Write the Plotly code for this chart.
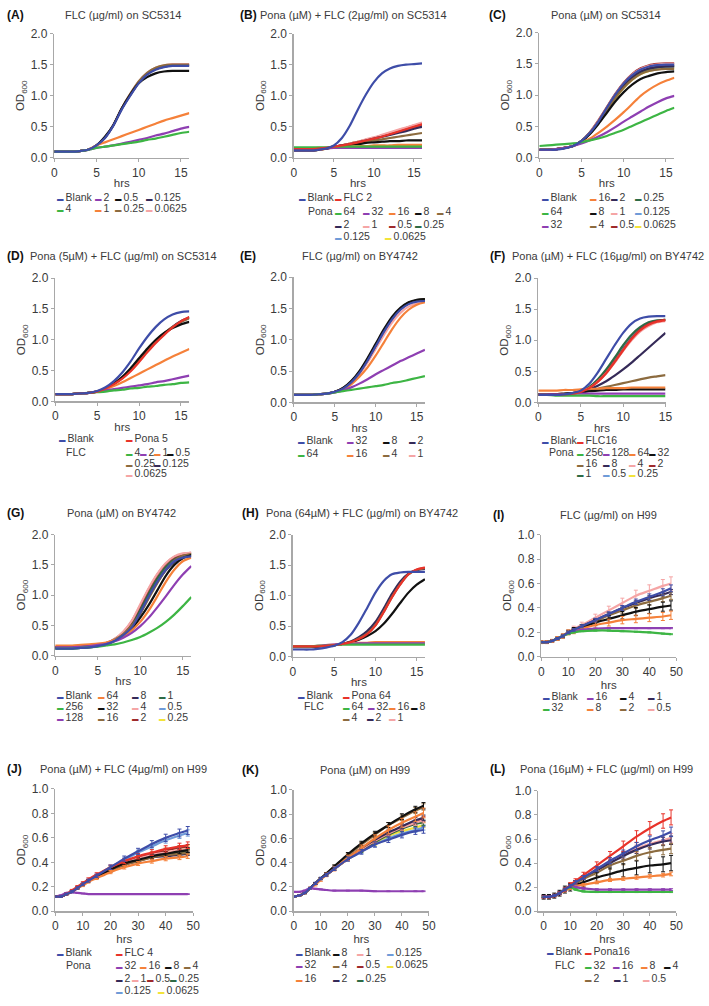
import plotly.graph_objects as go

W, H = 709, 1006

# ---------------- time points (hours) ----------------
T16 = [0, 1, 2, 3, 4, 5, 6, 7, 8, 9, 10, 11, 12, 13, 14, 15, 16]
T15 = [0, 1, 2, 3, 4, 5, 6, 7, 8, 9, 10, 11, 12, 13, 14, 15]
T48 = [0, 2, 4, 6, 8, 10, 12, 15, 20, 25, 30, 35, 40, 45, 48]

# ---------------- colours ----------------
BLUE = "#3E4DA8"; GREEN = "#3DB544"; PURPLE = "#8E3FB2"; ORANGE = "#F5813A"
BLACK = "#111111"; BROWN = "#8C6B3F"; NAVY = "#352A58"; PINK = "#F5A5A5"
RED = "#E8332A"; DRED = "#9E2A2B"; DGREEN = "#2E6B45"; LBLUE = "#6F9BD8"; YELLOW = "#F2E33A"

# ---------------- (A) FLC (ug/ml) on SC5314 ----------------
A_NAMES = ["Blank", "4", "2", "1", "0.5", "0.25", "0.125", "0.0625"]
A_COLORS = [BLUE, GREEN, PURPLE, ORANGE, BLACK, BROWN, NAVY, PINK]
A_VALUES = [
    [0.10, 0.10, 0.10, 0.11, 0.13, 0.20, 0.32, 0.52, 0.78, 1.00, 1.20, 1.34, 1.42, 1.46, 1.48, 1.48, 1.48],
    [0.10, 0.10, 0.10, 0.11, 0.13, 0.16, 0.18, 0.20, 0.22, 0.24, 0.26, 0.29, 0.31, 0.34, 0.37, 0.40, 0.42],
    [0.10, 0.10, 0.10, 0.11, 0.13, 0.16, 0.18, 0.20, 0.23, 0.26, 0.29, 0.32, 0.36, 0.39, 0.43, 0.47, 0.50],
    [0.10, 0.10, 0.10, 0.11, 0.13, 0.20, 0.25, 0.30, 0.35, 0.40, 0.45, 0.50, 0.55, 0.60, 0.64, 0.68, 0.72],
    [0.10, 0.10, 0.10, 0.11, 0.13, 0.20, 0.34, 0.53, 0.80, 1.02, 1.20, 1.30, 1.36, 1.39, 1.40, 1.40, 1.40],
    [0.10, 0.10, 0.10, 0.11, 0.13, 0.20, 0.33, 0.53, 0.80, 1.03, 1.23, 1.37, 1.45, 1.49, 1.50, 1.50, 1.50],
    [0.10, 0.10, 0.10, 0.11, 0.13, 0.20, 0.32, 0.52, 0.79, 1.01, 1.21, 1.35, 1.43, 1.47, 1.49, 1.49, 1.49],
    [0.10, 0.10, 0.10, 0.11, 0.13, 0.20, 0.33, 0.53, 0.80, 1.03, 1.23, 1.37, 1.45, 1.49, 1.51, 1.51, 1.51],
]

# ---------------- (B) Pona (uM) + FLC (2ug/ml) on SC5314 ----------------
B_NAMES = ["Blank", "FLC 2", "64", "32", "16", "8", "4", "2", "1", "0.5", "0.25", "0.125", "0.0625"]
B_COLORS = [BLUE, RED, GREEN, PURPLE, ORANGE, BLACK, BROWN, NAVY, PINK, DRED, DGREEN, LBLUE, YELLOW]
B_VALUES = [
    [0.12, 0.12, 0.12, 0.13, 0.15, 0.20, 0.32, 0.52, 0.78, 1.02, 1.22, 1.36, 1.44, 1.48, 1.50, 1.51, 1.52],
    [0.14, 0.14, 0.14, 0.15, 0.16, 0.18, 0.20, 0.22, 0.25, 0.28, 0.31, 0.34, 0.38, 0.42, 0.46, 0.50, 0.54],
    [0.17, 0.17, 0.17, 0.17, 0.17, 0.18, 0.18, 0.18, 0.18, 0.18, 0.18, 0.18, 0.18, 0.18, 0.18, 0.18, 0.18],
    [0.14, 0.14, 0.14, 0.15, 0.15, 0.16, 0.16, 0.16, 0.16, 0.16, 0.16, 0.16, 0.16, 0.16, 0.16, 0.16, 0.16],
    [0.15, 0.15, 0.15, 0.16, 0.16, 0.17, 0.18, 0.18, 0.19, 0.19, 0.20, 0.20, 0.20, 0.21, 0.21, 0.21, 0.21],
    [0.13, 0.13, 0.13, 0.14, 0.15, 0.17, 0.19, 0.21, 0.22, 0.24, 0.25, 0.26, 0.27, 0.27, 0.28, 0.28, 0.28],
    [0.13, 0.13, 0.13, 0.14, 0.15, 0.17, 0.19, 0.21, 0.24, 0.26, 0.28, 0.30, 0.32, 0.34, 0.36, 0.38, 0.40],
    [0.12, 0.12, 0.12, 0.13, 0.15, 0.17, 0.20, 0.22, 0.25, 0.28, 0.31, 0.34, 0.37, 0.40, 0.43, 0.47, 0.50],
    [0.12, 0.12, 0.12, 0.13, 0.15, 0.18, 0.20, 0.23, 0.26, 0.30, 0.33, 0.37, 0.41, 0.45, 0.49, 0.53, 0.57],
    [0.12, 0.12, 0.12, 0.13, 0.15, 0.18, 0.20, 0.23, 0.26, 0.29, 0.32, 0.36, 0.40, 0.44, 0.48, 0.52, 0.55],
    [0.12, 0.12, 0.12, 0.13, 0.15, 0.18, 0.20, 0.22, 0.25, 0.28, 0.31, 0.35, 0.39, 0.43, 0.46, 0.50, 0.53],
    [0.12, 0.12, 0.12, 0.13, 0.15, 0.17, 0.20, 0.22, 0.25, 0.28, 0.31, 0.34, 0.38, 0.42, 0.45, 0.49, 0.52],
    [0.12, 0.12, 0.12, 0.13, 0.15, 0.18, 0.20, 0.23, 0.26, 0.29, 0.32, 0.35, 0.39, 0.43, 0.47, 0.51, 0.54],
]

# ---------------- (C) Pona (uM) on SC5314 ----------------
C_NAMES = ["Blank", "64", "32", "16", "8", "4", "2", "1", "0.5", "0.25", "0.125", "0.0625"]
C_COLORS = [BLUE, GREEN, PURPLE, ORANGE, BLACK, BROWN, NAVY, PINK, DRED, DGREEN, LBLUE, YELLOW]
C_VALUES = [
    [0.13, 0.13, 0.13, 0.15, 0.19, 0.27, 0.40, 0.58, 0.80, 1.01, 1.19, 1.32, 1.41, 1.46, 1.48, 1.49, 1.49],
    [0.19, 0.20, 0.21, 0.22, 0.23, 0.25, 0.28, 0.31, 0.35, 0.40, 0.45, 0.51, 0.57, 0.63, 0.69, 0.75, 0.80],
    [0.13, 0.13, 0.14, 0.16, 0.19, 0.23, 0.28, 0.34, 0.41, 0.49, 0.58, 0.66, 0.74, 0.82, 0.89, 0.95, 0.99],
    [0.13, 0.13, 0.14, 0.16, 0.19, 0.24, 0.31, 0.40, 0.50, 0.61, 0.73, 0.86, 0.99, 1.09, 1.17, 1.23, 1.28],
    [0.13, 0.13, 0.14, 0.16, 0.19, 0.26, 0.38, 0.54, 0.72, 0.90, 1.05, 1.17, 1.26, 1.31, 1.35, 1.37, 1.38],
    [0.13, 0.13, 0.14, 0.16, 0.19, 0.27, 0.40, 0.57, 0.77, 0.96, 1.12, 1.25, 1.34, 1.39, 1.41, 1.42, 1.42],
    [0.13, 0.13, 0.14, 0.16, 0.19, 0.27, 0.40, 0.58, 0.79, 0.99, 1.16, 1.29, 1.38, 1.43, 1.45, 1.46, 1.46],
    [0.13, 0.13, 0.14, 0.16, 0.19, 0.27, 0.41, 0.59, 0.80, 1.01, 1.19, 1.33, 1.42, 1.47, 1.49, 1.50, 1.50],
    [0.13, 0.13, 0.14, 0.16, 0.19, 0.27, 0.41, 0.60, 0.81, 1.02, 1.20, 1.34, 1.43, 1.48, 1.50, 1.51, 1.51],
    [0.13, 0.13, 0.14, 0.16, 0.19, 0.27, 0.40, 0.58, 0.78, 0.98, 1.15, 1.28, 1.37, 1.42, 1.45, 1.46, 1.47],
    [0.13, 0.13, 0.14, 0.16, 0.19, 0.27, 0.40, 0.57, 0.77, 0.97, 1.14, 1.27, 1.36, 1.41, 1.44, 1.45, 1.46],
    [0.13, 0.13, 0.14, 0.16, 0.19, 0.27, 0.39, 0.56, 0.76, 0.95, 1.12, 1.25, 1.34, 1.39, 1.42, 1.43, 1.44],
]

# ---------------- (D) Pona (5uM) + FLC (ug/ml) on SC5314 ----------------
D_NAMES = ["Blank", "Pona 5", "4", "2", "1", "0.5", "0.25", "0.125", "0.0625"]
D_COLORS = [BLUE, RED, GREEN, PURPLE, ORANGE, BLACK, BROWN, NAVY, PINK]
D_VALUES = [
    [0.12, 0.12, 0.12, 0.13, 0.14, 0.17, 0.23, 0.33, 0.47, 0.65, 0.86, 1.05, 1.21, 1.33, 1.41, 1.45, 1.46],
    [0.12, 0.12, 0.12, 0.13, 0.14, 0.16, 0.21, 0.28, 0.37, 0.49, 0.64, 0.80, 0.95, 1.08, 1.20, 1.30, 1.37],
    [0.12, 0.12, 0.12, 0.13, 0.14, 0.15, 0.16, 0.18, 0.19, 0.21, 0.22, 0.24, 0.25, 0.27, 0.28, 0.30, 0.31],
    [0.12, 0.12, 0.12, 0.13, 0.14, 0.16, 0.18, 0.20, 0.22, 0.24, 0.26, 0.28, 0.31, 0.33, 0.36, 0.39, 0.42],
    [0.12, 0.12, 0.12, 0.13, 0.14, 0.16, 0.20, 0.25, 0.31, 0.38, 0.45, 0.52, 0.59, 0.66, 0.73, 0.79, 0.85],
    [0.12, 0.12, 0.12, 0.13, 0.14, 0.16, 0.21, 0.29, 0.40, 0.54, 0.70, 0.86, 1.00, 1.11, 1.19, 1.25, 1.29],
    [0.12, 0.12, 0.12, 0.13, 0.14, 0.16, 0.21, 0.29, 0.39, 0.52, 0.67, 0.83, 0.98, 1.11, 1.21, 1.29, 1.35],
    [0.12, 0.12, 0.12, 0.13, 0.14, 0.16, 0.21, 0.28, 0.38, 0.51, 0.66, 0.82, 0.97, 1.10, 1.21, 1.30, 1.36],
    [0.12, 0.12, 0.12, 0.13, 0.14, 0.16, 0.21, 0.28, 0.38, 0.50, 0.65, 0.81, 0.96, 1.09, 1.21, 1.30, 1.37],
]

# ---------------- (E) FLC (ug/ml) on BY4742 ----------------
E_NAMES = ["Blank", "64", "32", "16", "8", "4", "2", "1"]
E_COLORS = [BLUE, GREEN, PURPLE, ORANGE, BLACK, BROWN, NAVY, PINK]
E_VALUES = [
    [0.12, 0.12, 0.12, 0.13, 0.14, 0.17, 0.22, 0.32, 0.47, 0.67, 0.90, 1.13, 1.33, 1.48, 1.57, 1.61, 1.62],
    [0.12, 0.12, 0.12, 0.13, 0.14, 0.16, 0.18, 0.20, 0.22, 0.24, 0.26, 0.28, 0.31, 0.33, 0.36, 0.39, 0.42],
    [0.12, 0.12, 0.12, 0.13, 0.14, 0.16, 0.19, 0.24, 0.30, 0.37, 0.45, 0.52, 0.59, 0.66, 0.72, 0.78, 0.84],
    [0.12, 0.12, 0.12, 0.13, 0.14, 0.16, 0.21, 0.29, 0.41, 0.56, 0.75, 0.96, 1.17, 1.35, 1.48, 1.56, 1.60],
    [0.12, 0.12, 0.12, 0.13, 0.14, 0.17, 0.23, 0.34, 0.50, 0.71, 0.94, 1.17, 1.37, 1.51, 1.60, 1.64, 1.65],
    [0.12, 0.12, 0.12, 0.13, 0.14, 0.17, 0.23, 0.33, 0.49, 0.69, 0.92, 1.15, 1.35, 1.50, 1.59, 1.63, 1.65],
    [0.12, 0.12, 0.12, 0.13, 0.14, 0.17, 0.22, 0.33, 0.48, 0.68, 0.91, 1.14, 1.34, 1.49, 1.58, 1.62, 1.64],
    [0.12, 0.12, 0.12, 0.13, 0.14, 0.17, 0.22, 0.31, 0.45, 0.64, 0.86, 1.08, 1.28, 1.43, 1.53, 1.58, 1.60],
]

# ---------------- (F) Pona (uM) + FLC (16ug/ml) on BY4742 ----------------
F_NAMES = ["Blank", "FLC16", "256", "128", "64", "32", "16", "8", "4", "2", "1", "0.5", "0.25"]
F_COLORS = [BLUE, RED, GREEN, PURPLE, ORANGE, BLACK, BROWN, NAVY, PINK, DRED, DGREEN, LBLUE, YELLOW]
F_VALUES = [
    [0.12, 0.12, 0.12, 0.13, 0.15, 0.19, 0.30, 0.48, 0.70, 0.92, 1.12, 1.27, 1.35, 1.38, 1.39, 1.39],
    [0.12, 0.12, 0.12, 0.13, 0.14, 0.17, 0.23, 0.33, 0.47, 0.65, 0.84, 1.02, 1.16, 1.25, 1.30, 1.32],
    [0.12, 0.12, 0.11, 0.11, 0.11, 0.11, 0.11, 0.10, 0.10, 0.10, 0.10, 0.10, 0.10, 0.10, 0.10, 0.10],
    [0.13, 0.13, 0.13, 0.13, 0.14, 0.14, 0.14, 0.14, 0.14, 0.14, 0.14, 0.14, 0.14, 0.14, 0.14, 0.14],
    [0.19, 0.19, 0.19, 0.20, 0.20, 0.21, 0.22, 0.22, 0.23, 0.23, 0.23, 0.24, 0.24, 0.24, 0.24, 0.24],
    [0.13, 0.13, 0.13, 0.14, 0.15, 0.16, 0.18, 0.19, 0.20, 0.20, 0.21, 0.21, 0.21, 0.21, 0.21, 0.21],
    [0.13, 0.13, 0.13, 0.14, 0.15, 0.17, 0.20, 0.22, 0.25, 0.28, 0.31, 0.34, 0.37, 0.40, 0.42, 0.44],
    [0.13, 0.13, 0.13, 0.14, 0.15, 0.17, 0.21, 0.27, 0.34, 0.43, 0.53, 0.64, 0.76, 0.88, 1.00, 1.12],
    [0.12, 0.12, 0.12, 0.13, 0.14, 0.17, 0.23, 0.33, 0.47, 0.64, 0.83, 1.00, 1.14, 1.23, 1.29, 1.31],
    [0.12, 0.12, 0.12, 0.13, 0.14, 0.17, 0.23, 0.34, 0.48, 0.66, 0.85, 1.03, 1.17, 1.26, 1.31, 1.33],
    [0.12, 0.12, 0.12, 0.13, 0.14, 0.18, 0.25, 0.37, 0.53, 0.72, 0.92, 1.09, 1.21, 1.29, 1.32, 1.33],
    [0.12, 0.12, 0.12, 0.13, 0.14, 0.17, 0.24, 0.35, 0.50, 0.69, 0.88, 1.06, 1.19, 1.27, 1.31, 1.33],
    [0.12, 0.12, 0.12, 0.13, 0.14, 0.17, 0.24, 0.35, 0.50, 0.68, 0.87, 1.05, 1.18, 1.27, 1.31, 1.33],
]

# ---------------- (G) Pona (uM) on BY4742 ----------------
G_NAMES = ["Blank", "256", "128", "64", "32", "16", "8", "4", "2", "1", "0.5", "0.25"]
G_COLORS = [BLUE, GREEN, PURPLE, ORANGE, BLACK, BROWN, NAVY, PINK, DRED, DGREEN, LBLUE, YELLOW]
G_VALUES = [
    [0.12, 0.12, 0.12, 0.13, 0.14, 0.16, 0.19, 0.25, 0.34, 0.47, 0.71, 0.98, 1.22, 1.42, 1.56, 1.62, 1.64],
    [0.12, 0.12, 0.12, 0.13, 0.14, 0.15, 0.17, 0.19, 0.22, 0.26, 0.31, 0.38, 0.46, 0.56, 0.68, 0.82, 0.97],
    [0.14, 0.14, 0.14, 0.15, 0.16, 0.18, 0.20, 0.24, 0.30, 0.38, 0.49, 0.63, 0.80, 0.98, 1.17, 1.34, 1.48],
    [0.17, 0.17, 0.17, 0.18, 0.19, 0.20, 0.22, 0.26, 0.32, 0.42, 0.56, 0.75, 0.98, 1.22, 1.42, 1.56, 1.62],
    [0.14, 0.14, 0.14, 0.15, 0.16, 0.18, 0.20, 0.25, 0.33, 0.45, 0.63, 0.84, 1.08, 1.32, 1.50, 1.61, 1.66],
    [0.15, 0.15, 0.15, 0.16, 0.17, 0.18, 0.21, 0.27, 0.36, 0.50, 0.70, 0.95, 1.20, 1.42, 1.57, 1.65, 1.68],
    [0.12, 0.12, 0.12, 0.13, 0.14, 0.16, 0.19, 0.25, 0.34, 0.47, 0.70, 0.97, 1.21, 1.41, 1.55, 1.62, 1.65],
    [0.14, 0.14, 0.14, 0.15, 0.16, 0.18, 0.21, 0.28, 0.40, 0.58, 0.85, 1.12, 1.35, 1.53, 1.64, 1.69, 1.70],
    [0.14, 0.14, 0.14, 0.15, 0.16, 0.18, 0.21, 0.28, 0.39, 0.57, 0.83, 1.10, 1.34, 1.52, 1.63, 1.68, 1.70],
    [0.13, 0.13, 0.13, 0.14, 0.15, 0.17, 0.20, 0.27, 0.37, 0.53, 0.77, 1.04, 1.28, 1.47, 1.60, 1.66, 1.68],
    [0.13, 0.13, 0.13, 0.14, 0.15, 0.17, 0.20, 0.26, 0.36, 0.52, 0.75, 1.02, 1.26, 1.46, 1.59, 1.66, 1.68],
    [0.13, 0.13, 0.13, 0.14, 0.15, 0.17, 0.20, 0.26, 0.36, 0.51, 0.74, 1.01, 1.25, 1.45, 1.58, 1.65, 1.68],
]

# ---------------- (H) Pona (64uM) + FLC (ug/ml) on BY4742 ----------------
H_NAMES = ["Blank", "Pona 64", "64", "32", "16", "8", "4", "2", "1"]
H_COLORS = [BLUE, RED, GREEN, PURPLE, ORANGE, BLACK, BROWN, NAVY, PINK]
H_VALUES = [
    [0.12, 0.12, 0.12, 0.13, 0.15, 0.18, 0.24, 0.36, 0.56, 0.80, 1.05, 1.24, 1.35, 1.38, 1.39, 1.39, 1.39],
    [0.17, 0.17, 0.17, 0.17, 0.18, 0.19, 0.21, 0.24, 0.29, 0.37, 0.51, 0.73, 0.97, 1.18, 1.35, 1.43, 1.46],
    [0.17, 0.17, 0.17, 0.18, 0.18, 0.19, 0.20, 0.20, 0.20, 0.20, 0.20, 0.20, 0.20, 0.20, 0.20, 0.20, 0.20],
    [0.17, 0.17, 0.17, 0.18, 0.19, 0.20, 0.21, 0.21, 0.22, 0.22, 0.22, 0.22, 0.22, 0.22, 0.22, 0.22, 0.22],
    [0.17, 0.17, 0.17, 0.18, 0.19, 0.20, 0.21, 0.22, 0.23, 0.23, 0.24, 0.24, 0.24, 0.24, 0.24, 0.24, 0.24],
    [0.17, 0.17, 0.17, 0.17, 0.18, 0.19, 0.21, 0.24, 0.28, 0.34, 0.42, 0.54, 0.70, 0.88, 1.05, 1.18, 1.27],
    [0.17, 0.17, 0.17, 0.17, 0.18, 0.19, 0.21, 0.24, 0.30, 0.38, 0.52, 0.74, 0.98, 1.19, 1.35, 1.42, 1.45],
    [0.16, 0.16, 0.16, 0.17, 0.18, 0.19, 0.21, 0.25, 0.32, 0.42, 0.57, 0.79, 1.03, 1.23, 1.36, 1.42, 1.44],
    [0.17, 0.17, 0.17, 0.17, 0.18, 0.19, 0.21, 0.24, 0.30, 0.38, 0.52, 0.74, 0.98, 1.19, 1.35, 1.43, 1.46],
]

# ---------------- (I) FLC (ug/ml) on H99 ----------------
I_NAMES = ["Blank", "32", "16", "8", "4", "2", "1", "0.5"]
I_COLORS = [BLUE, GREEN, PURPLE, ORANGE, BLACK, BROWN, NAVY, PINK]
I_VALUES = [
    [0.12, 0.12, 0.13, 0.15, 0.17, 0.20, 0.22, 0.25, 0.30, 0.35, 0.40, 0.45, 0.49, 0.53, 0.56],
    [0.12, 0.12, 0.13, 0.15, 0.17, 0.19, 0.20, 0.21, 0.215, 0.215, 0.21, 0.205, 0.20, 0.19, 0.185],
    [0.12, 0.12, 0.13, 0.15, 0.17, 0.19, 0.21, 0.22, 0.23, 0.235, 0.235, 0.235, 0.235, 0.235, 0.235],
    [0.12, 0.12, 0.13, 0.15, 0.17, 0.20, 0.21, 0.23, 0.26, 0.28, 0.30, 0.31, 0.32, 0.33, 0.34],
    [0.12, 0.12, 0.13, 0.15, 0.17, 0.20, 0.22, 0.24, 0.28, 0.31, 0.34, 0.37, 0.39, 0.41, 0.42],
    [0.12, 0.12, 0.13, 0.15, 0.17, 0.20, 0.22, 0.25, 0.29, 0.34, 0.38, 0.42, 0.45, 0.48, 0.50],
    [0.12, 0.12, 0.13, 0.15, 0.17, 0.20, 0.22, 0.25, 0.30, 0.35, 0.40, 0.44, 0.48, 0.51, 0.53],
    [0.12, 0.12, 0.13, 0.15, 0.17, 0.20, 0.23, 0.26, 0.32, 0.38, 0.44, 0.50, 0.54, 0.58, 0.60],
]
I_ERR_PCT = [5, 2, 2, 10, 9, 6, 4, 9]

# ---------------- (J) Pona (uM) + FLC (4ug/ml) on H99 ----------------
J_NAMES = ["Blank", "FLC 4", "32", "16", "8", "4", "2", "1", "0.5", "0.25", "0.125", "0.0625"]
J_COLORS = [BLUE, RED, PURPLE, ORANGE, BLACK, BROWN, NAVY, PINK, DRED, DGREEN, LBLUE, YELLOW]
J_VALUES = [
    [0.12, 0.12, 0.14, 0.16, 0.19, 0.22, 0.25, 0.29, 0.36, 0.43, 0.49, 0.55, 0.60, 0.64, 0.66],
    [0.12, 0.12, 0.14, 0.17, 0.20, 0.23, 0.26, 0.30, 0.36, 0.41, 0.45, 0.48, 0.51, 0.53, 0.54],
    [0.12, 0.13, 0.15, 0.155, 0.15, 0.145, 0.14, 0.14, 0.14, 0.14, 0.14, 0.14, 0.14, 0.14, 0.14],
    [0.12, 0.12, 0.14, 0.16, 0.19, 0.21, 0.24, 0.27, 0.32, 0.36, 0.39, 0.41, 0.43, 0.44, 0.45],
    [0.12, 0.12, 0.14, 0.16, 0.19, 0.22, 0.25, 0.28, 0.34, 0.39, 0.42, 0.45, 0.47, 0.49, 0.50],
    [0.12, 0.12, 0.14, 0.16, 0.19, 0.22, 0.25, 0.28, 0.33, 0.38, 0.41, 0.44, 0.46, 0.47, 0.48],
    [0.12, 0.12, 0.14, 0.16, 0.19, 0.22, 0.25, 0.28, 0.33, 0.38, 0.41, 0.44, 0.45, 0.46, 0.47],
    [0.12, 0.12, 0.14, 0.16, 0.19, 0.22, 0.25, 0.29, 0.34, 0.39, 0.43, 0.46, 0.48, 0.50, 0.51],
    [0.12, 0.12, 0.14, 0.16, 0.19, 0.22, 0.25, 0.29, 0.35, 0.40, 0.44, 0.47, 0.50, 0.52, 0.53],
    [0.12, 0.12, 0.14, 0.16, 0.19, 0.22, 0.25, 0.28, 0.34, 0.39, 0.42, 0.45, 0.47, 0.48, 0.49],
    [0.12, 0.12, 0.14, 0.16, 0.19, 0.22, 0.25, 0.29, 0.36, 0.42, 0.48, 0.53, 0.58, 0.62, 0.64],
    [0.12, 0.12, 0.14, 0.16, 0.19, 0.22, 0.25, 0.29, 0.35, 0.40, 0.44, 0.47, 0.50, 0.52, 0.52],
]
J_ERR_PCT = [5, 5, 2, 4, 4, 3, 3, 3, 3, 3, 4, 3]

# ---------------- (K) Pona (uM) on H99 ----------------
K_NAMES = ["Blank", "32", "16", "8", "4", "2", "1", "0.5", "0.25", "0.125", "0.0625"]
K_COLORS = [BLUE, PURPLE, ORANGE, BLACK, BROWN, NAVY, PINK, DRED, DGREEN, LBLUE, YELLOW]
K_VALUES = [
    [0.12, 0.13, 0.15, 0.19, 0.23, 0.27, 0.30, 0.35, 0.43, 0.49, 0.55, 0.59, 0.63, 0.66, 0.67],
    [0.16, 0.16, 0.17, 0.19, 0.185, 0.18, 0.175, 0.17, 0.17, 0.17, 0.165, 0.165, 0.165, 0.165, 0.165],
    [0.12, 0.13, 0.15, 0.19, 0.22, 0.26, 0.30, 0.35, 0.44, 0.52, 0.60, 0.67, 0.73, 0.78, 0.81],
    [0.12, 0.13, 0.15, 0.19, 0.23, 0.27, 0.31, 0.37, 0.47, 0.56, 0.64, 0.71, 0.78, 0.84, 0.87],
    [0.12, 0.13, 0.15, 0.19, 0.23, 0.27, 0.31, 0.37, 0.46, 0.55, 0.63, 0.71, 0.77, 0.83, 0.86],
    [0.12, 0.13, 0.15, 0.19, 0.23, 0.27, 0.30, 0.35, 0.44, 0.52, 0.59, 0.65, 0.70, 0.75, 0.77],
    [0.12, 0.13, 0.15, 0.19, 0.23, 0.27, 0.30, 0.35, 0.43, 0.51, 0.58, 0.64, 0.69, 0.73, 0.75],
    [0.12, 0.13, 0.15, 0.19, 0.23, 0.27, 0.30, 0.35, 0.43, 0.51, 0.58, 0.64, 0.69, 0.73, 0.76],
    [0.12, 0.13, 0.15, 0.19, 0.23, 0.27, 0.30, 0.35, 0.43, 0.50, 0.57, 0.63, 0.68, 0.72, 0.73],
    [0.12, 0.13, 0.15, 0.19, 0.23, 0.27, 0.30, 0.35, 0.43, 0.49, 0.55, 0.60, 0.64, 0.67, 0.69],
    [0.12, 0.13, 0.15, 0.19, 0.23, 0.27, 0.30, 0.35, 0.43, 0.50, 0.56, 0.62, 0.66, 0.69, 0.71],
]
K_ERR_PCT = [4, 2, 5, 3, 3, 3, 3, 3, 3, 3, 3]

# ---------------- (L) Pona (16uM) + FLC (ug/ml) on H99 ----------------
L_NAMES = ["Blank", "Pona16", "32", "16", "8", "4", "2", "1", "0.5"]
L_COLORS = [BLUE, RED, GREEN, PURPLE, ORANGE, BLACK, BROWN, NAVY, PINK]
L_VALUES = [
    [0.12, 0.12, 0.13, 0.15, 0.18, 0.21, 0.24, 0.28, 0.35, 0.42, 0.48, 0.54, 0.59, 0.63, 0.66],
    [0.12, 0.12, 0.13, 0.15, 0.18, 0.22, 0.25, 0.30, 0.38, 0.46, 0.54, 0.62, 0.69, 0.75, 0.78],
    [0.12, 0.12, 0.13, 0.15, 0.18, 0.20, 0.18, 0.165, 0.16, 0.16, 0.16, 0.16, 0.16, 0.16, 0.16],
    [0.12, 0.12, 0.13, 0.15, 0.18, 0.21, 0.20, 0.19, 0.18, 0.18, 0.18, 0.18, 0.18, 0.18, 0.18],
    [0.12, 0.12, 0.13, 0.15, 0.17, 0.19, 0.21, 0.22, 0.24, 0.26, 0.27, 0.28, 0.29, 0.30, 0.31],
    [0.12, 0.12, 0.13, 0.15, 0.18, 0.20, 0.22, 0.24, 0.28, 0.31, 0.34, 0.36, 0.38, 0.39, 0.40],
    [0.12, 0.12, 0.13, 0.15, 0.18, 0.21, 0.23, 0.27, 0.32, 0.38, 0.42, 0.46, 0.49, 0.51, 0.52],
    [0.12, 0.12, 0.13, 0.15, 0.18, 0.21, 0.24, 0.28, 0.34, 0.40, 0.46, 0.51, 0.55, 0.58, 0.59],
    [0.12, 0.12, 0.13, 0.15, 0.18, 0.21, 0.24, 0.28, 0.35, 0.41, 0.47, 0.52, 0.56, 0.59, 0.61],
]
L_ERR_PCT = [6, 8, 3, 4, 5, 16, 8, 6, 6]

# ---------------- panel layout (pixel geometry) ----------------
PANELS = [
    dict(letter="(A)", title="FLC (µg/ml) on SC5314", names=A_NAMES, values=A_VALUES, colors=A_COLORS, t=T16,
         dx=(52, 189), dy=(27, 153), xr=[0, 16], xd=5, yr=[0, 2], yd=0.5, ty=8, tx=122, lx=2,
         leg=[(53, 193), (53, 204), (91, 193), (91, 204), (112, 193), (112, 204), (143, 193), (143, 204)], extra=[]),
    dict(letter="(B)", title="Pona (µM) + FLC (2µg/ml) on SC5314", names=B_NAMES, values=B_VALUES, colors=B_COLORS, t=T16,
         dx=(295, 425), dy=(27, 153), xr=[0, 16], xd=5, yr=[0, 2], yd=0.5, ty=8, tx=356, lx=238,
         leg=[(298, 193), (335, 193), (335, 207), (363, 207), (389, 207), (416, 207), (438, 207),
              (335, 220), (363, 220), (389, 220), (416, 220), (335, 232), (385, 232)],
         extra=[("Pona", 307, 207)]),
    dict(letter="(C)", title="Pona (µM) on SC5314", names=C_NAMES, values=C_VALUES, colors=C_COLORS, t=T16,
         dx=(544, 681), dy=(26, 153), xr=[0, 16], xd=5, yr=[0, 2], yd=0.5, ty=8, tx=612, lx=491,
         leg=[(545, 193), (545, 207), (545, 220), (593, 193), (593, 207), (593, 220),
              (615, 193), (615, 207), (615, 220), (639, 193), (639, 207), (639, 220)], extra=[]),
    dict(letter="(D)", title="Pona (5µM) + FLC (µg/ml) on SC5314", names=D_NAMES, values=D_VALUES, colors=D_COLORS, t=T16,
         dx=(53, 189), dy=(275, 400), xr=[0, 16], xd=5, yr=[0, 2], yd=0.5, ty=253, tx=122, lx=2,
         leg=[(55, 437), (123, 437), (123, 451), (137, 451), (151, 451), (164, 451),
              (123, 462), (151, 462), (123, 473)],
         extra=[("FLC", 62, 451)]),
    dict(letter="(E)", title="FLC (µg/ml) on BY4742", names=E_NAMES, values=E_VALUES, colors=E_COLORS, t=T16,
         dx=(295, 428), dy=(274, 401), xr=[0, 16], xd=5, yr=[0, 2], yd=0.5, ty=253, tx=362, lx=238,
         leg=[(297, 439), (297, 452), (347, 439), (347, 452), (383, 439), (383, 452), (410, 439), (410, 452)],
         extra=[]),
    dict(letter="(F)", title="Pona (µM) + FLC (16µg/ml) on BY4742", names=F_NAMES, values=F_VALUES, colors=F_COLORS, t=T15,
         dx=(543, 672), dy=(275, 401), xr=[0, 15], xd=5, yr=[0, 2], yd=0.5, ty=253, tx=614, lx=492,
         leg=[(545, 439), (580, 439), (580, 451), (607, 451), (633, 451), (653, 451),
              (580, 462), (607, 462), (633, 462), (653, 462), (580, 473), (607, 473), (633, 473)],
         extra=[("Pona", 552, 451)]),
    dict(letter="(G)", title="Pona (µM) on BY4742", names=G_NAMES, values=G_VALUES, colors=G_COLORS, t=T16,
         dx=(53, 191), dy=(535, 658), xr=[0, 16], xd=5, yr=[0, 2], yd=0.5, ty=513, tx=120, lx=2,
         leg=[(53, 698), (53, 709), (53, 720), (94, 698), (94, 709), (94, 720),
              (129, 698), (129, 709), (129, 720), (156, 698), (156, 709), (156, 720)], extra=[]),
    dict(letter="(H)", title="Pona (64µM) + FLC (µg/ml) on BY4742", names=H_NAMES, values=H_VALUES, colors=H_COLORS, t=T16,
         dx=(294, 428), dy=(535, 659), xr=[0, 16], xd=5, yr=[0, 2], yd=0.5, ty=513, tx=364, lx=240,
         leg=[(297, 698), (343, 698), (343, 709), (368, 709), (390, 709), (412, 709),
              (343, 720), (367, 720), (389, 720)],
         extra=[("FLC", 303, 709)]),
    dict(letter="(I)", title="FLC (µg/ml) on H99", names=I_NAMES, values=I_VALUES, colors=I_COLORS, t=T48,
         err=I_ERR_PCT,
         dx=(546, 683), dy=(535, 659), xr=[0, 50], xd=10, yr=[0, 1], yd=0.2, ty=515, tx=614, lx=495,
         leg=[(546, 699), (546, 710), (590, 699), (590, 710), (624, 699), (624, 710), (652, 699), (652, 710)],
         extra=[]),
    dict(letter="(J)", title="Pona (µM) + FLC (4µg/ml) on H99", names=J_NAMES, values=J_VALUES, colors=J_COLORS, t=T48,
         err=J_ERR_PCT,
         dx=(53, 193), dy=(793, 917), xr=[0, 50], xd=10, yr=[0, 1], yd=0.2, ty=773, tx=122, lx=2,
         leg=[(53, 958), (113, 958), (113, 972), (137, 972), (162, 972), (182, 972),
              (113, 985), (129, 985), (144, 985), (167, 985), (113, 997), (155, 997)],
         extra=[("Pona", 62, 972)]),
    dict(letter="(K)", title="Pona (µM) on H99", names=K_NAMES, values=K_VALUES, colors=K_COLORS, t=T48,
         err=K_ERR_PCT,
         dx=(295, 432), dy=(794, 917), xr=[0, 50], xd=10, yr=[0, 1], yd=0.2, ty=774, tx=367, lx=240,
         leg=[(295, 958), (295, 971), (295, 985), (333, 958), (333, 971), (333, 985),
              (357, 958), (357, 971), (357, 985), (387, 958), (387, 971)], extra=[]),
    dict(letter="(L)", title="Pona (16µM) + FLC (µg/ml) on H99", names=L_NAMES, values=L_VALUES, colors=L_COLORS, t=T48,
         err=L_ERR_PCT,
         dx=(543, 683), dy=(795, 917), xr=[-2, 50], xd=10, yr=[0, 1], yd=0.2, ty=773, tx=612, lx=492,
         leg=[(550, 957), (588, 957), (588, 972), (617, 972), (645, 972), (668, 972),
              (588, 985), (618, 985), (647, 985)],
         extra=[("FLC", 558, 972)]),
]

FONT = "Liberation Sans, Arial, sans-serif"
TXT = "#3a3a3a"
AXC = "#a8a8a8"


def fx(p):
    return p / W


def fy(p):
    return 1 - p / H


fig = go.Figure()
annotations = []
layout = {}

for i, p in enumerate(PANELS, start=1):
    xa = "x" if i == 1 else f"x{i}"
    ya = "y" if i == 1 else f"y{i}"
    errs = p.get("err", [None] * len(p["names"]))
    # draw so that the first-listed series ends up on top
    for name, vals, col, e in reversed(list(zip(p["names"], p["values"], p["colors"], errs))):
        kw = {}
        if e is not None:
            kw["error_y"] = dict(type="percent", value=e, color=col, thickness=1, width=2)
        fig.add_trace(go.Scatter(
            x=p["t"], y=vals, mode="lines", name=name,
            line=dict(color=col, width=2.2, shape="spline", smoothing=0.8),
            xaxis=xa, yaxis=ya, showlegend=False, hoverinfo="skip", **kw))

    xkey = "xaxis" if i == 1 else f"xaxis{i}"
    ykey = "yaxis" if i == 1 else f"yaxis{i}"
    layout[xkey] = dict(
        domain=[fx(p["dx"][0]), fx(p["dx"][1])], anchor=ya, range=p["xr"], dtick=p["xd"], tick0=0,
        showline=True, linecolor=AXC, linewidth=1.5, ticks="outside", ticklen=3, tickcolor=AXC,
        showgrid=False, zeroline=False, tickfont=dict(family=FONT, size=12, color=TXT),
        title=dict(text="hrs", font=dict(family=FONT, size=11.5, color=TXT), standoff=0))
    layout[ykey] = dict(
        domain=[fy(p["dy"][1]), fy(p["dy"][0])], anchor=xa, range=p["yr"], dtick=p["yd"], tick0=0,
        tickformat=".1f", showline=True, linecolor=AXC, linewidth=1.5, ticks="outside", ticklen=3,
        tickcolor=AXC, showgrid=False, zeroline=False, tickfont=dict(family=FONT, size=12, color=TXT),
        title=dict(text="OD<sub>600</sub>", font=dict(family=FONT, size=11.5, color=TXT), standoff=3))

    # panel letter and title
    annotations.append(dict(text="<b>" + p["letter"] + "</b>", x=fx(p["lx"]), y=fy(p["ty"]),
                            xref="paper", yref="paper", xanchor="left", yanchor="middle",
                            showarrow=False, font=dict(family=FONT, size=12, color="#111")))
    annotations.append(dict(text=p["title"], x=fx(p["tx"]), y=fy(p["ty"]),
                            xref="paper", yref="paper", xanchor="center", yanchor="middle",
                            showarrow=False, font=dict(family=FONT, size=11, color=TXT)))
    # legend entries
    for name, col, (lx, ly) in zip(p["names"], p["colors"], p["leg"]):
        annotations.append(dict(
            text=f'<span style="color:{col};font-size:6.5px">▬</span>\u2009{name}',
            x=fx(lx), y=fy(ly), xref="paper", yref="paper", xanchor="left", yanchor="middle",
            showarrow=False, font=dict(family=FONT, size=10.5, color=TXT)))
    for txt, lx, ly in p["extra"]:
        annotations.append(dict(text=txt, x=fx(lx), y=fy(ly), xref="paper", yref="paper",
                                xanchor="left", yanchor="middle", showarrow=False,
                                font=dict(family=FONT, size=10.5, color=TXT)))

fig.update_layout(
    width=W, height=H, margin=dict(l=0, r=0, t=0, b=0),
    paper_bgcolor="white", plot_bgcolor="white",
    annotations=annotations, showlegend=False, **layout)

fig.write_html(
    "out.html",
    config={"displayModeBar": False, "staticPlot": True},
    post_script=("document.body.style.margin='0';document.body.style.padding='0';"
                 "var d=document.querySelector('.plotly-graph-div');"
                 "d.style.position='absolute';d.style.left='0px';d.style.top='0px';"))
